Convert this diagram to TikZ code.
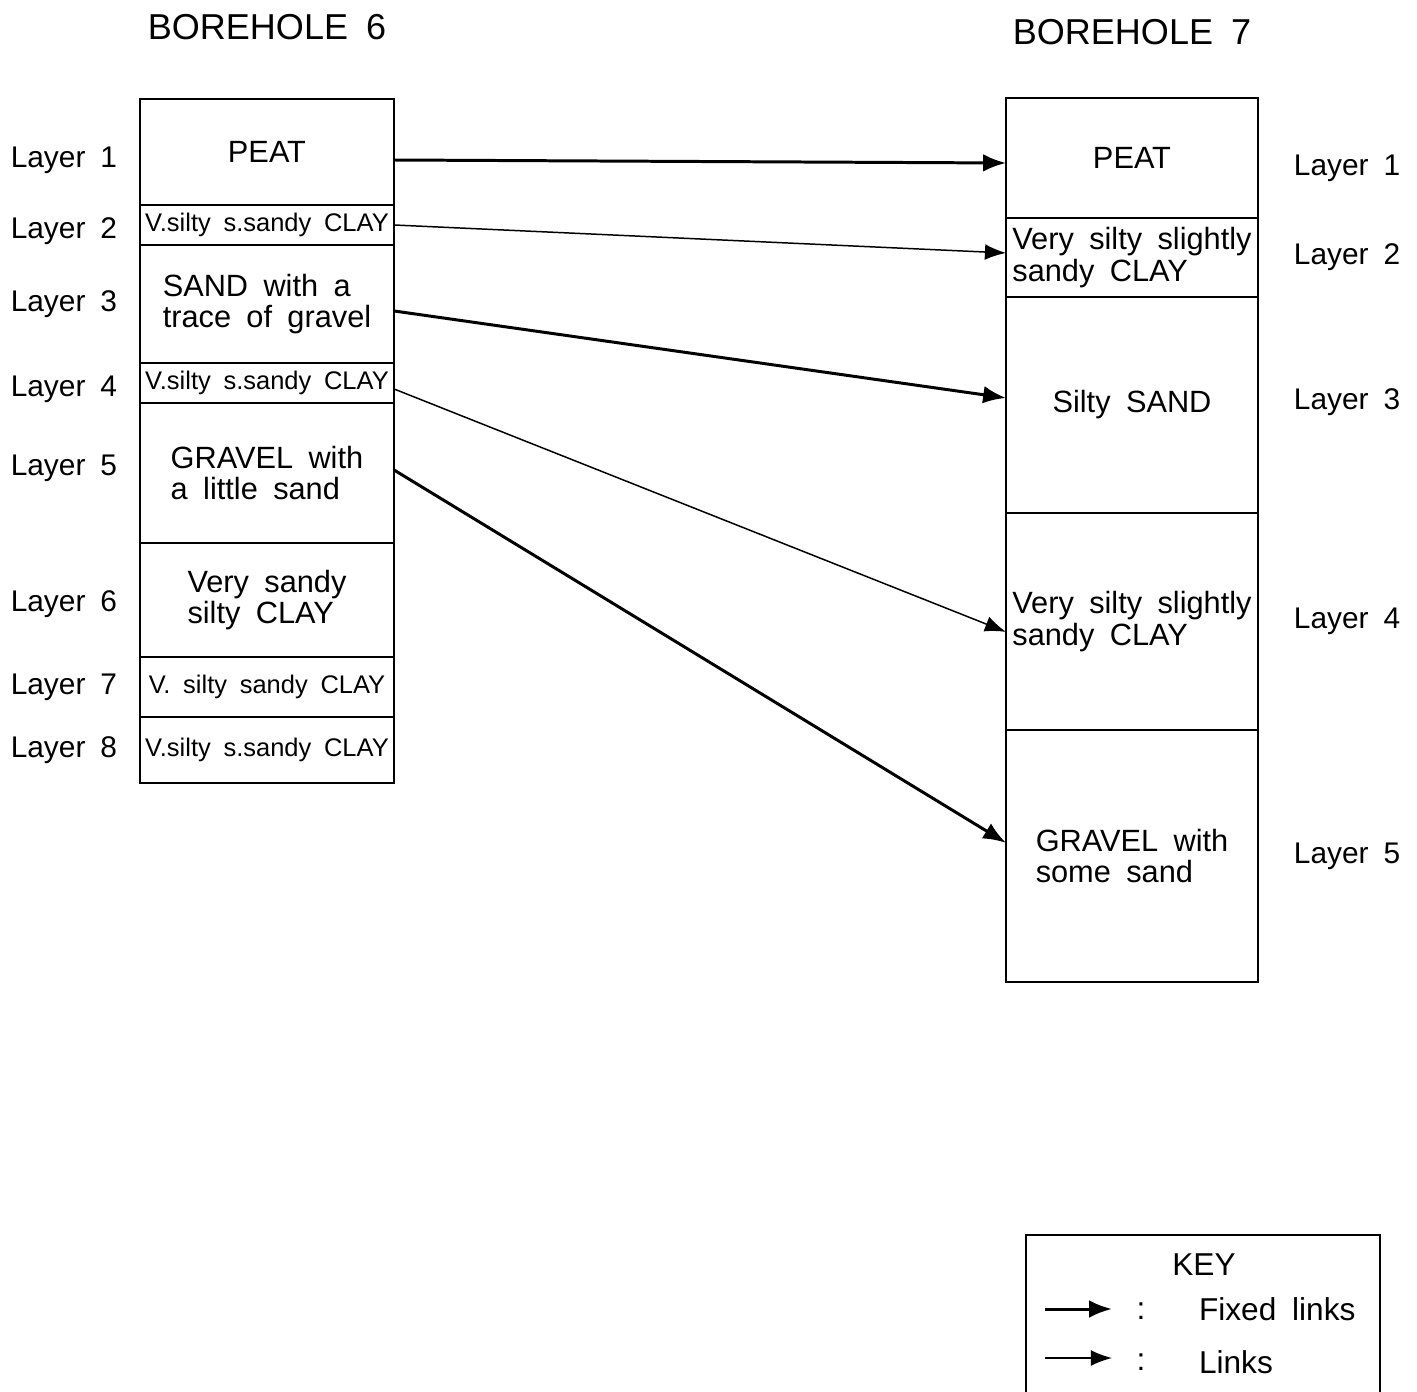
\documentclass[tikz,border=0pt]{standalone}
\usepackage{fontspec}
\setmainfont{Liberation Sans}[WordSpace=1.8]
\usetikzlibrary{arrows.meta, positioning}

\begin{document}
\begin{tikzpicture}[
      x=0.02cm, y=-0.02cm,
      node distance=0pt,
      every node/.style={inner sep=0pt, outer sep=0pt, font=\fontsize{17}{18}\selectfont},
      layerA/.style={draw, line width=1.1pt, minimum width=5.08cm, align=left, font=\fontsize{17.5}{18}\selectfont},
      layerB/.style={draw, line width=1.1pt, minimum width=5.04cm, align=left, font=\fontsize{17.5}{18}\selectfont},
      small/.style={font=\fontsize{14.5}{16}\selectfont},
      title/.style={font=\fontsize{20.5}{23}\selectfont},
      keytext/.style={font=\fontsize{18}{20}\selectfont},
      fixed/.style={-{Latex[length=13pt,width=10pt]}, line width=1.7pt},
      link/.style={-{Latex[length=12pt,width=9pt]}, line width=0.85pt}
    ]
      \useasboundingbox (0,0) rectangle (1417,1392);

      % Borehole 6: layers
      \node (l1) [layerA, minimum height=2.12cm] at (267,152) {PEAT};
      \node (l2) [layerA, small, minimum height=0.8cm, below=of l1] {V.silty s.sandy CLAY};
      \node (l3) [layerA, minimum height=2.36cm, below=of l2] {SAND with a\\trace of gravel};
      \node (l4) [layerA, small, minimum height=0.8cm, below=of l3] {V.silty s.sandy CLAY};
      \node (l5) [layerA, minimum height=2.8cm, below=of l4] {GRAVEL with\\a little sand};
      \node (l6) [layerA, minimum height=2.28cm, below=of l5] {Very sandy\\silty CLAY};
      \node (l7) [layerA, small, minimum height=1.2cm, below=of l6] {V. silty sandy CLAY};
      \node (l8) [layerA, small, minimum height=1.32cm, below=of l7] {V.silty s.sandy CLAY};

      % Borehole 7: layers
      \node (r1) [layerB, minimum height=2.4cm] at (1132,158) {PEAT};
      \node (r2) [layerB, minimum height=1.58cm, below=of r1] {Very silty slightly\\sandy CLAY};
      \node (r3) [layerB, minimum height=4.32cm, below=of r2] {Silty SAND};
      \node (r4) [layerB, minimum height=4.34cm, below=of r3] {Very silty slightly\\sandy CLAY};
      \node (r5) [layerB, minimum height=5.04cm, below=of r4] {GRAVEL with\\some sand};

      % Titles
      \node (bh6) [title, above=1.18cm of l1] {BOREHOLE 6};
      \node (bh7) [title, above=1.06cm of r1] {BOREHOLE 7};

      % Layer labels, borehole 6
      \node (la1) [left=0.46cm of l1, yshift=-0.16cm] {Layer 1};
      \node (la2) [left=0.46cm of l2, yshift=-0.12cm] {Layer 2};
      \node (la3) [left=0.46cm of l3] {Layer 3};
      \node (la4) [left=0.46cm of l4, yshift=-0.12cm] {Layer 4};
      \node (la5) [left=0.46cm of l5, yshift=0.1cm] {Layer 5};
      \node (la6) [left=0.46cm of l6, yshift=-0.08cm] {Layer 6};
      \node (la7) [left=0.46cm of l7] {Layer 7};
      \node (la8) [left=0.46cm of l8] {Layer 8};

      % Layer labels, borehole 7
      \node (lb1) [right=0.72cm of r1, yshift=-0.2cm] {Layer 1};
      \node (lb2) [right=0.72cm of r2] {Layer 2};
      \node (lb3) [right=0.72cm of r3, yshift=0.06cm] {Layer 3};
      \node (lb4) [right=0.72cm of r4] {Layer 4};
      \node (lb5) [right=0.72cm of r5] {Layer 5};

      % Connectors
      \draw[fixed] ([yshift=-0.16cm]l1.east) -- ([yshift=-0.1cm]r1.west);
      \draw[link] (l2.east) -- ([yshift=0.09cm]r2.west);
      \draw[fixed] ([yshift=-0.14cm]l3.east) -- ([yshift=0.14cm]r3.west);
      \draw[link] ([yshift=-0.12cm]l4.east) -- ([yshift=-0.21cm]r4.west);
      \draw[fixed] ([yshift=0.06cm]l5.east) -- ([yshift=0.26cm]r5.west);

      % Key
      \draw[line width=1.1pt] (1026,1392) |- (1380,1235) -- (1380,1392);
      \node (key) [keytext] at (1204,1265) {KEY};
      \coordinate (kfa) at (1045,1309);
      \coordinate (kfb) at (1112,1309);
      \coordinate (kla) at (1045,1358);
      \coordinate (klb) at (1112,1358);
      \draw[fixed] (kfa) -- (kfb);
      \draw[link] (kla) -- (klb);
      \node (kc1) [keytext] at (1141,1311) {:};
      \node (kc2) [keytext] at (1141,1362) {:};
      \node (kfix) [keytext, anchor=west] at (1199,1309) {Fixed links};
      \node (klink) [keytext, anchor=west] at (1199,1362) {Links};
    \end{tikzpicture}
\end{document}
